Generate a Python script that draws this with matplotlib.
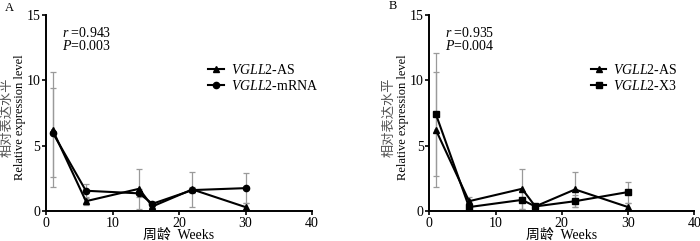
import matplotlib
matplotlib.use('Agg')
import matplotlib.pyplot as plt

plt.rcParams['font.family'] = ['Liberation Serif', 'Noto Sans CJK SC']
plt.rcParams['mathtext.fontset'] = 'custom'
plt.rcParams['mathtext.it'] = 'Liberation Serif:italic'
plt.rcParams['mathtext.rm'] = 'Liberation Serif'

weeks = [1, 6, 14, 16, 22, 30]

# panel A
as_mean = [6.2, 0.75, 1.7, 0.35, 1.65, 0.3]
as_err = [4.4, 0.3, 1.55, 0.2, 1.35, 0.3]
mrna_mean = [6.0, 1.55, 1.35, 0.55, 1.6, 1.75]
mrna_err = [3.4, 0.55, 0.3, 0.15, 0.2, 1.15]

# panel B
x3_mean = [7.4, 0.3, 0.85, 0.35, 0.75, 1.45]
x3_err = [4.7, 0.15, 0.7, 0.1, 0.45, 0.8]

stats_a = ['$r$ =0.943', '$P$=0.003']
stats_b = ['$r$ =0.935', '$P$=0.004']

fig = plt.figure(figsize=(7, 2.41), dpi=100)
ax_a = fig.add_axes([46/700, 1-211/241, 266/700, 196/241])
ax_b = fig.add_axes([429.3/700, 1-211/241, 265/700, 196/241])

def panel(ax, s1, e1, s2, e2, m2, lab2, stats, ylab_x):
    for s, e in [(s1, e1), (s2, e2)]:
        ax.errorbar(weeks, s, yerr=e, fmt='none', ecolor='#9a9a9a',
                    elinewidth=0.9, capsize=2.5, capthick=0.9, zorder=1)
    ax.plot(weeks, s1, color='black', lw=1.5, marker='^', ms=4.5,
            label=r'$\mathit{VGLL}$2-AS', zorder=3)
    ax.plot(weeks, s2, color='black', lw=1.5, marker=m2, ms=4.5,
            label=lab2, zorder=3)
    ax.set_xlim(0, 40)
    ax.set_ylim(0, 15)
    ax.set_xticks([0, 10, 20, 30, 40])
    ax.set_yticks([0, 5, 10, 15])
    for sp in ['top', 'right']:
        ax.spines[sp].set_visible(False)
    for sp in ['left', 'bottom']:
        ax.spines[sp].set_linewidth(1.4)
    ax.tick_params(direction='out', length=3, width=1.2, labelsize=10, pad=1)
    ax.text(2.4, 13.6, stats[0], fontsize=10, va='center')
    ax.text(2.4, 12.6, stats[1], fontsize=10, va='center')
    ax.legend(loc='upper left', bbox_to_anchor=(0.59, 0.785), frameon=False,
              fontsize=10, handlelength=1.1, handletextpad=0.5,
              labelspacing=0.15, borderaxespad=0)
    ax.set_xlabel('周龄  Weeks', fontsize=10, labelpad=-1)
    fig.text(ylab_x[0]/700, 1-117/241, '相对表达水平', fontsize=9.5,
             color='#555555', rotation=90, ha='center', va='center')
    fig.text(ylab_x[1]/700, 1-117/241, 'Relative expression level',
             fontsize=9, rotation=90, ha='center', va='center')

panel(ax_a, as_mean, as_err, mrna_mean, mrna_err, 'o',
      r'$\mathit{VGLL}$2-mRNA', stats_a, (7.5, 20))
panel(ax_b, as_mean, as_err, x3_mean, x3_err, 's',
      r'$\mathit{VGLL}$2-X3', stats_b, (389, 403))

fig.text(5/700, 1-8/241, 'A', fontsize=9, va='center')
fig.text(389/700, 1-6/241, 'B', fontsize=9, va='center')

fig.savefig('out.png', dpi=100)
